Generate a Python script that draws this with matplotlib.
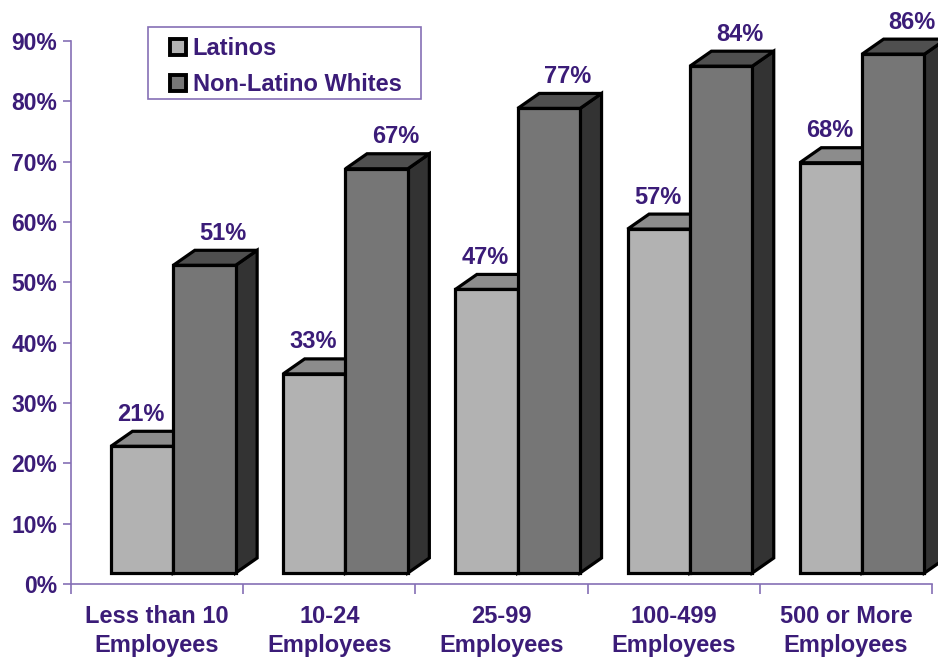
import matplotlib
matplotlib.use("Agg")
import matplotlib.pyplot as plt
from matplotlib.patches import Polygon, Rectangle, Patch

# ---- data ----
categories = ["Less than 10\nEmployees", "10-24\nEmployees", "25-99\nEmployees",
              "100-499\nEmployees", "500 or More\nEmployees"]
series_names = ["Latinos", "Non-Latino Whites"]
latinos = [21, 33, 47, 57, 68]
whites = [51, 67, 77, 84, 86]
yticks = [0, 10, 20, 30, 40, 50, 60, 70, 80, 90]
ytick_labels = [f"{v}%" for v in yticks]

# ---- style ----
TXT = "#3B1C78"
AXC = "#8570B5"
FONT = "Liberation Sans"
plt.rcParams["font.family"] = [FONT, "DejaVu Sans"]
plt.rcParams["font.weight"] = "bold"

lat_cols = ("#B2B2B2", "#8C8C8C", "#5A5A5A")   # front, top, side
wh_cols = ("#767676", "#4F4F4F", "#333333")

W, H = 938, 658
fig = plt.figure(figsize=(W / 100, H / 100), dpi=100)
ax = fig.add_axes([71 / W, (H - 584) / H, (932 - 71) / W, (584 - 41) / H])
ax.set_xlim(-0.5, 4.5)
ax.set_ylim(0, 90)

# 3D geometry (in data units)
b0 = 1.82      # front-face floor offset
dx = 0.125     # depth x
dy = 2.49      # depth y
bw = 0.362     # bar width
lat_left = -0.268
lw = 2.3


def bar3d(x0, val, cols):
    x1 = x0 + bw
    y0, y1 = b0, b0 + val
    front = Polygon([(x0, y0), (x1, y0), (x1, y1), (x0, y1)], closed=True,
                    facecolor=cols[0], edgecolor="black", lw=lw, clip_on=False,
                    joinstyle="miter")
    top = Polygon([(x0, y1), (x1, y1), (x1 + dx, y1 + dy), (x0 + dx, y1 + dy)], closed=True,
                  facecolor=cols[1], edgecolor="black", lw=lw, clip_on=False,
                  joinstyle="miter")
    side = Polygon([(x1, y0), (x1 + dx, y0 + dy), (x1 + dx, y1 + dy), (x1, y1)], closed=True,
                   facecolor=cols[2], edgecolor="black", lw=lw, clip_on=False,
                   joinstyle="miter")
    for p in (side, top, front):
        ax.add_patch(p)


for i in range(len(categories)):
    xl = i + lat_left
    bar3d(xl, latinos[i], lat_cols)
    bar3d(xl + bw, whites[i], wh_cols)
    ax.text(i - 0.094, latinos[i] + b0 + dy + 1.74, f"{latinos[i]}%", ha="center",
            va="baseline", color=TXT, fontsize=17, fontweight="bold", clip_on=False)
    ax.text(i + 0.383, whites[i] + b0 + dy + 1.74, f"{whites[i]}%", ha="center",
            va="baseline", color=TXT, fontsize=17, fontweight="bold", clip_on=False)

# axes styling
for s in ("top", "right"):
    ax.spines[s].set_visible(False)
for s in ("left", "bottom"):
    ax.spines[s].set_color(AXC)
    ax.spines[s].set_linewidth(1.2)

ax.set_yticks(yticks)
ax.set_yticklabels(ytick_labels)
ax.tick_params(axis="y", length=6, width=1.2, color=AXC, pad=4, labelsize=16.5,
               labelcolor=TXT)
ax.set_xticks(range(len(categories)))
ax.set_xticklabels(categories, linespacing=1.36)
ax.set_xticks([i - 0.5 for i in range(len(categories) + 1)], minor=True)
ax.tick_params(axis="x", which="major", length=0, pad=15, labelsize=17, labelcolor=TXT)
ax.tick_params(axis="x", which="minor", length=7, width=1.2, color=AXC)
for t in ax.get_xticklabels() + ax.get_yticklabels():
    t.set_fontweight("bold")

# legend
handles = [Patch(facecolor=lat_cols[0], edgecolor="black", linewidth=2.8),
           Patch(facecolor="#777777", edgecolor="black", linewidth=2.8)]
leg = ax.legend(handles, series_names, loc="upper left",
                bbox_to_anchor=(170 / W, (H - 37) / H), bbox_transform=fig.transFigure,
                frameon=False, borderpad=0, borderaxespad=0, handlelength=0.66,
                handleheight=0.66, handletextpad=0.3, labelspacing=0.55,
                prop={"family": [FONT, "DejaVu Sans"], "weight": "bold", "size": 17})
for t in leg.get_texts():
    t.set_color(TXT)
fig.patches.append(Rectangle((148 / W, (H - 99) / H), 273 / W, 72 / H,
                             transform=fig.transFigure, facecolor="none",
                             edgecolor=AXC, linewidth=1.2))

fig.savefig("out.png", dpi=100)
